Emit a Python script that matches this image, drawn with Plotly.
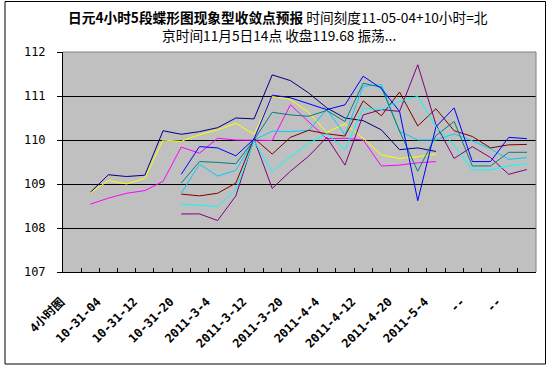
import plotly.graph_objects as go

categories = ["4小时图", "", "10-31-04", "", "10-31-12", "", "10-31-20", "", "2011-3-4", "",
              "2011-3-12", "", "2011-3-20", "", "2011-4-4", "", "2011-4-12", "", "2011-4-20", "",
              "2011-5-4", "", "--", "", "--", ""]

N = None
navy = [N, 108.81, 109.21, 109.17, 109.20, 110.21, 110.13, 110.19, 110.28, 110.50, 110.48, 111.48, 111.35,
        111.07, 110.73, 110.50, 110.44, 110.23, 109.78, 109.82, 109.74, N, N, N, N, N]
magenta = [N, 108.54, 108.68, 108.79, 108.85, 109.06, 109.84, 109.70, 110.04, 110.00, 109.99, 109.99, 110.80,
           110.42, 110.03, 110.04, 110.00, 109.41, 109.43, 109.48, 109.51, N, N, N, N, N]
yellow = [N, 108.79, 109.08, 109.00, 109.13, 110.00, 109.97, 110.12, 110.23, 110.38, 110.13, 110.99, 110.92,
          110.63, 110.17, 110.37, 110.04, 109.66, 109.58, 109.62, 109.68, N, N, N, N, N]
sky = [N, N, N, N, N, N, 108.79, 109.45, 109.18, 109.31, 110.00, 110.20, 110.19,
       110.22, 110.69, 110.12, 111.22, 111.26, 110.20, 110.00, 110.00, 110.14, 109.98, 109.80, 109.56, 109.60]
purple = [N, N, N, N, N, N, 108.32, 108.32, 108.17, 108.73, 110.02, 108.90, 109.29,
          109.63, 110.06, 109.43, 110.57, 110.69, 110.65, 111.71, 110.35, 109.58, 109.85, 109.60, 109.22, 109.33]
maroon = [N, N, N, N, N, N, 108.77, 108.73, 108.79, 109.02, 110.04, 109.68, 110.06,
          110.22, 110.14, 110.09, 110.89, 110.55, 111.09, 110.32, 110.71, 110.21, 110.08, 109.82, 109.89, 109.90]
teal = [N, N, N, N, N, N, 109.02, 109.51, 109.49, 109.46, 110.00, 110.63, 110.57,
        110.54, 110.67, 110.42, 111.29, 111.20, 110.20, 109.29, 110.10, 110.42, 109.41, 109.41, 109.72, 109.72]
blue = [N, N, N, N, N, N, 109.22, 109.85, 109.82, 109.64, 110.02, 111.02, 110.96,
        110.82, 110.69, 110.80, 111.45, 111.17, 110.65, 108.62, 110.30, 110.73, 109.51, 109.51, 110.06, 110.03]
cyan = [N, N, N, N, N, N, 108.54, 108.52, 108.49, 108.87, 109.98, 109.28, 109.62,
        109.92, 110.15, 109.78, 110.72, 110.69, 110.88, 110.99, 110.30, 109.89, 109.32, 109.32, 109.41, 109.46]

title_line1_bold = "日元4小时5段蝶形图现象型收敛点预报"
title_line1_rest = " 时间刻度11-05-04+10小时=北"
title_line2 = "京时间11月5日14点 收盘119.68 振荡..."

series = [
    (navy, "#000080"), (magenta, "#FF00FF"), (yellow, "#FFFF00"), (sky, "#00CCFF"),
    (purple, "#800080"), (maroon, "#800000"), (teal, "#008080"), (blue, "#0000FF"), (cyan, "#00FFFF"),
]

x_idx = list(range(len(categories)))

fig = go.Figure()
for vals, col in series:
    fig.add_trace(go.Scatter(x=x_idx, y=vals, mode="lines", line=dict(color=col, width=1),
                             showlegend=False, hoverinfo="skip"))

W, H = 551, 366
ml, mr, mt, mb = 63, 15, 52, 94
pw, ph = W - ml - mr, H - mt - mb

cjk = "'Noto Sans CJK SC', sans-serif"
mono = "'DejaVu Sans Mono', 'Noto Sans CJK SC', sans-serif"


def py(pix):
    return (H - mb - pix) / ph


def px(pix):
    return (pix - ml) / pw


fig.update_layout(
    width=W, height=H,
    margin=dict(l=ml, r=mr, t=mt, b=mb),
    paper_bgcolor="white", plot_bgcolor="#C0C0C0",
    font=dict(family=cjk, size=12, color="black"),
    xaxis=dict(
        range=[-0.5, len(categories) - 0.5],
        tickmode="array",
        tickvals=[i for i, c in enumerate(categories) if c],
        ticktext=[c for c in categories if c],
        tickangle=-45, ticks="", showgrid=False, zeroline=False,
        showline=True, linecolor="black", linewidth=1,
        tickfont=dict(size=12, family=mono, weight="bold"),
        ticklabelstandoff=17, ticklabelshift=-11,
        minor=dict(tickmode="array", tickvals=[i + 0.5 for i in range(len(categories) - 1)],
                   ticks="inside", ticklen=4, tickcolor="black", tickwidth=1, showgrid=False),
    ),
    yaxis=dict(
        range=[107, 112], tickmode="array", tickvals=[107, 108, 109, 110, 111, 112],
        ticks="outside", ticklen=5, tickcolor="black",
        showgrid=True, gridcolor="black", gridwidth=1, zeroline=False,
        showline=True, linecolor="black", linewidth=1,
        tickfont=dict(size=12, family=mono),
        ticklabelstandoff=9,
    ),
    annotations=[
        dict(xref="paper", yref="paper", x=px(278), y=py(17), xanchor="center", yanchor="middle",
             text="<b>" + title_line1_bold + "</b>" + title_line1_rest, showarrow=False,
             font=dict(size=13.7, family=cjk, color="black")),
        dict(xref="paper", yref="paper", x=px(279), y=py(35), xanchor="center", yanchor="middle",
             text=title_line2, showarrow=False,
             font=dict(size=13.7, family=cjk, color="black")),
    ],
    shapes=[
        dict(type="line", xref="paper", yref="paper", x0=0, x1=1, y0=1, y1=1,
             line=dict(color="#808080", width=1), layer="above"),
        dict(type="line", xref="paper", yref="paper", x0=1, x1=1, y0=0, y1=1,
             line=dict(color="#808080", width=1), layer="above"),
        dict(type="rect", xref="paper", yref="paper",
             x0=px(5), x1=px(545.5), y0=py(364), y1=py(1.5),
             line=dict(color="black", width=1), fillcolor="rgba(0,0,0,0)", layer="above"),
    ],
)

fig.write_html("out.html", config={"displayModeBar": False},
               post_script="document.body.style.margin='0';document.body.style.overflow='hidden';")
